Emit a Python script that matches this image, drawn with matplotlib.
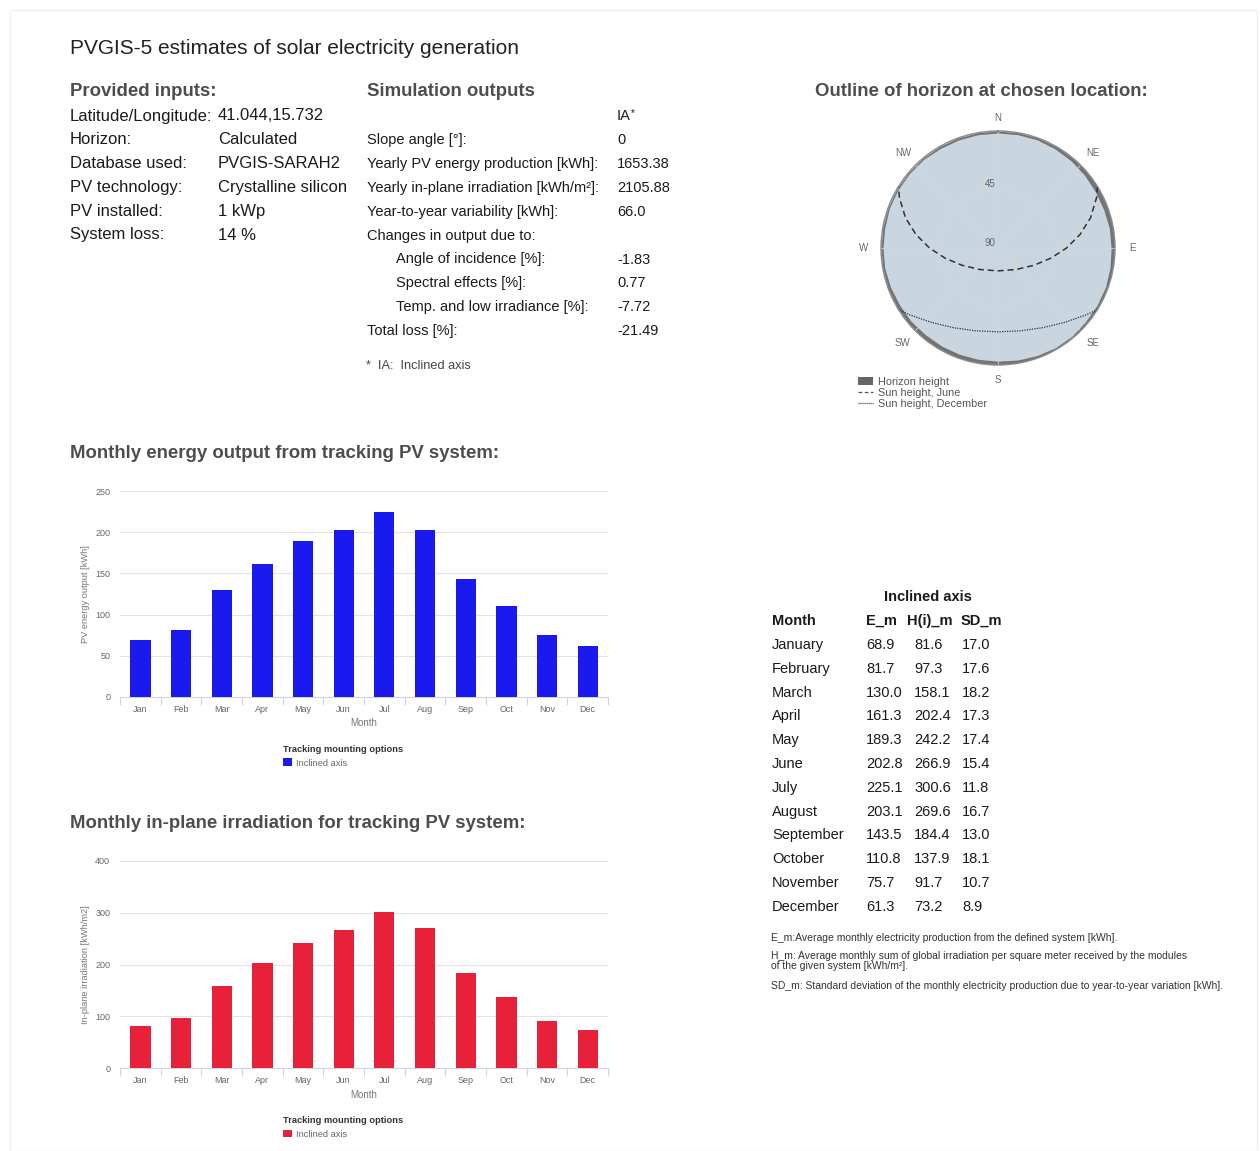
import numpy as np
import matplotlib
matplotlib.use('Agg')
import matplotlib.pyplot as plt
from matplotlib.patches import Rectangle, Patch
from matplotlib.lines import Line2D

plt.rcParams['font.family'] = ['Liberation Sans', 'DejaVu Sans']

W, H = 1260, 1151

# ---- data ----
months_short = ['Jan', 'Feb', 'Mar', 'Apr', 'May', 'Jun', 'Jul', 'Aug', 'Sep', 'Oct', 'Nov', 'Dec']
months_long = ['January', 'February', 'March', 'April', 'May', 'June', 'July', 'August',
               'September', 'October', 'November', 'December']
e_m = [68.9, 81.7, 130.0, 161.3, 189.3, 202.8, 225.1, 203.1, 143.5, 110.8, 75.7, 61.3]
h_m = [81.6, 97.3, 158.1, 202.4, 242.2, 266.9, 300.6, 269.6, 184.4, 137.9, 91.7, 73.2]
sd_m = [17.0, 17.6, 18.2, 17.3, 17.4, 15.4, 11.8, 16.7, 13.0, 18.1, 10.7, 8.9]

input_labels = ['Latitude/Longitude:', 'Horizon:', 'Database used:', 'PV technology:',
                'PV installed:', 'System loss:']
input_values = ['41.044,15.732', 'Calculated', 'PVGIS-SARAH2', 'Crystalline silicon',
                '1 kWp', '14 %']

output_labels = ['Slope angle [°]:', 'Yearly PV energy production [kWh]:',
                 'Yearly in-plane irradiation [kWh/m²]:', 'Year-to-year variability [kWh]:',
                 'Changes in output due to:', 'Angle of incidence [%]:', 'Spectral effects [%]:',
                 'Temp. and low irradiance [%]:', 'Total loss [%]:']
output_values = ['0', '1653.38', '2105.88', '66.0', '', '-1.83', '0.77', '-7.72', '-21.49']
output_indent = [0, 0, 0, 0, 0, 1, 1, 1, 0]

# horizon outline (azimuth deg from N, height deg)
hor_az = [0, 10, 20, 30, 40, 50, 60, 70, 80, 90, 100, 110, 120, 130, 140, 150, 160, 170, 180,
          190, 200, 210, 220, 230, 240, 250, 260, 270, 280, 290, 300, 310, 320, 330, 340, 350, 360]
hor_h = [1.5, 1.5, 1.5, 2.0, 2.5, 3.0, 3.5, 3.5, 3.0, 3.0, 2.5, 2.0, 2.0, 2.0, 1.5, 1.5, 2.0, 2.5, 3.0,
         3.0, 3.0, 3.0, 3.0, 2.5, 2.5, 2.0, 1.5, 1.5, 1.5, 1.0, 1.0, 1.0, 1.0, 1.5, 1.5, 1.5, 1.5]

# sun paths (azimuth, elevation)
june_az = [58.2, 62.8, 71.9, 80.7, 90.1, 100.9, 115.8, 140.0, 180.0,
           220.0, 244.2, 259.1, 269.9, 279.3, 288.1, 297.2, 301.8]
june_el = [0, 4.7, 15.1, 26.1, 37.4, 48.6, 59.4, 68.4, 72.4,
           68.4, 59.4, 48.6, 37.4, 26.1, 15.1, 4.7, 0]
dec_az = [121.8, 127.2, 138.2, 150.9, 164.8, 180.0, 195.2, 209.1, 221.8, 232.8, 238.2]
dec_el = [0, 4.9, 13.2, 19.8, 24.0, 25.5, 24.0, 19.8, 13.2, 4.9, 0]

compass = ['N', 'NE', 'E', 'SE', 'S', 'SW', 'W', 'NW']


def fx(x):
    return x / W


def fy(y):
    return 1 - y / H


fig = plt.figure(figsize=(W / 100, H / 100), dpi=100)
fig.patches.append(Rectangle((fx(10), 0), fx(1247), fy(10), transform=fig.transFigure,
                             fill=False, edgecolor='#f0f0f0', lw=1))

head_col = '#4d4d4d'
txt_col = '#1a1a1a'
head_size = 13.4

fig.text(fx(70), fy(49), 'PVGIS-5 estimates of solar electricity generation', fontsize=15,
         color='#222222', va='center')

# provided inputs
fig.text(fx(70), fy(91), 'Provided inputs:', fontsize=head_size, weight='bold', color=head_col, va='center')
for i, (lab, val) in enumerate(zip(input_labels, input_values)):
    y = 116 + i * 23.8
    fig.text(fx(70), fy(y), lab, fontsize=12, color=txt_col, va='center')
    fig.text(fx(218), fy(y), val, fontsize=12, color=txt_col, va='center')

# simulation outputs
fig.text(fx(367), fy(91), 'Simulation outputs', fontsize=head_size, weight='bold', color=head_col, va='center')
fig.text(fx(617), fy(116), 'IA', fontsize=10.5, color=txt_col, va='center')
fig.text(fx(631), fy(113), '*', fontsize=7, color=txt_col, va='center')
for i, (lab, val) in enumerate(zip(output_labels, output_values)):
    y = 140 + i * 23.9
    fig.text(fx(367 + 29 * output_indent[i]), fy(y), lab, fontsize=10.5, color=txt_col, va='center')
    fig.text(fx(617), fy(y), val, fontsize=10.5, color=txt_col, va='center')
fig.text(fx(366), fy(366), '*  IA:  Inclined axis', fontsize=9.2, color='#444444', va='center')

fig.text(fx(981), fy(91), 'Outline of horizon at chosen location:', fontsize=head_size, weight='bold',
         color=head_col, va='center', ha='center')

# horizon polar plot
cx, cy, R = 998, 248, 117
axp = fig.add_axes([fx(cx - R), fy(cy + R), R * 2 / W, R * 2 / H], projection='polar')
axp.set_theta_zero_location('N')
axp.set_theta_direction(-1)
axp.set_facecolor('#c9d5df')
axp.set_rlim(0, 90)
th = np.deg2rad(hor_az)
axp.fill_between(th, [90 - h for h in hor_h], 90, color='#737373', lw=0)
axp.plot(np.deg2rad(june_az), [90 - e for e in june_el], color='#333333', lw=1.1,
         dashes=(4, 2.5))
axp.plot(np.deg2rad(dec_az), [90 - e for e in dec_el], color='#333333', lw=0.9, ls=(0, (1, 1)))
axp.set_rticks([45])
axp.set_yticklabels([])
axp.set_thetagrids(range(0, 360, 45), [''] * 8)
axp.grid(color='#ccd7e1', lw=0.6)
axp.spines['polar'].set_color('#8a8a8a')
axp.spines['polar'].set_linewidth(1.0)
label_r = [1.11, 1.15, 1.15, 1.15, 1.13, 1.15, 1.15, 1.15]
for k, lab in enumerate(compass):
    axp.text(np.deg2rad(k * 45), 90 * label_r[k], lab, ha='center', va='center', fontsize=7,
             color='#666666', clip_on=False)
axp.text(0.466, 0.5 + 64 / 234, '45', transform=axp.transAxes, ha='center', va='center',
         fontsize=7, color='#666666')
axp.text(0.466, 0.5 + 5 / 234, '90', transform=axp.transAxes, ha='center', va='center',
         fontsize=7, color='#666666')
hor_handles = [Patch(facecolor='#666666', edgecolor='none', label='Horizon height'),
               Line2D([], [], color='#555555', lw=0.9, dashes=(3, 2), label='Sun height, June'),
               Line2D([], [], color='#555555', lw=0.9, ls=(0, (1, 0.6)), label='Sun height, December')]
fig.legend(handles=hor_handles, loc='upper left', bbox_to_anchor=(fx(850), fy(369)), frameon=False,
           fontsize=7.8, labelcolor='#555555', handlelength=1.4, handleheight=0.8,
           labelspacing=0.1, handletextpad=0.5, borderpad=0.2)


def bar_chart(top, bottom, values, ymax, step, color, ylabel, title, title_y):
    fig.text(fx(70), fy(title_y), title, fontsize=head_size, weight='bold', color=head_col, va='center')
    ax = fig.add_axes([fx(120), fy(bottom), 488 / W, (bottom - top) / H])
    x = np.arange(len(months_short))
    bars = ax.bar(x, values, width=0.5, color=color, label='Inclined axis', zorder=3)
    ax.set_xlim(-0.5, 11.5)
    ax.set_ylim(0, ymax)
    ax.set_yticks(np.arange(0, ymax + 1, step))
    ax.set_xticks(x)
    ax.set_xticklabels(months_short)
    ax.set_xticks(np.arange(-0.5, 12, 1), minor=True)
    ax.tick_params(axis='x', which='major', length=0, labelsize=6.5, labelcolor='#666666', pad=6)
    ax.tick_params(axis='x', which='minor', length=6, color='#cfd5de', width=0.8)
    ax.tick_params(axis='y', length=0, labelsize=6.5, labelcolor='#666666', pad=7)
    ax.grid(axis='y', color='#e3e3e3', lw=0.8, zorder=0)
    for s in ['top', 'right', 'left']:
        ax.spines[s].set_visible(False)
    ax.spines['bottom'].set_color('#cfd5de')
    ax.set_xlabel('Month', fontsize=7, color='#777777', labelpad=3)
    ax.set_ylabel(ylabel, fontsize=6.7, color='#777777', labelpad=4)
    leg = ax.legend(handles=[bars], loc='upper center', bbox_to_anchor=(0.457, -0.205),
                    frameon=False, fontsize=6.7, labelcolor='#666666',
                    title='Tracking mounting options', alignment='left',
                    title_fontproperties={'weight': 'bold', 'size': 6.7},
                    handlelength=1.0, handleheight=0.9, handletextpad=0.4, borderpad=0.1)
    leg.get_title().set_color('#333333')
    return ax


bar_chart(491, 697, e_m, 250, 50, '#1a1aee', 'PV energy output [kWh]',
          'Monthly energy output from tracking PV system:', 453)
bar_chart(861, 1068, h_m, 400, 100, '#e62139', 'In-plane irradiation [kWh/m2]',
          'Monthly in-plane irradiation for tracking PV system:', 823)

# monthly table
fig.text(fx(928), fy(597), 'Inclined axis', fontsize=10.5, weight='bold', color=txt_col,
         ha='center', va='center')
for xx, lab in zip([866, 907, 961], ['E_m', 'H(i)_m', 'SD_m']):
    fig.text(fx(xx), fy(621), lab, fontsize=10.5, weight='bold', color=txt_col, va='center')
fig.text(fx(772), fy(621), 'Month', fontsize=10.5, weight='bold', color=txt_col, va='center')
for i in range(12):
    y = 645 + i * 23.8
    fig.text(fx(772), fy(y), months_long[i], fontsize=10.5, color=txt_col, va='center')
    fig.text(fx(866), fy(y), f'{e_m[i]:.1f}', fontsize=10.5, color=txt_col, va='center')
    fig.text(fx(914), fy(y), f'{h_m[i]:.1f}', fontsize=10.5, color=txt_col, va='center')
    fig.text(fx(962), fy(y), f'{sd_m[i]:.1f}', fontsize=10.5, color=txt_col, va='center')

note_size = 7.5
fig.text(fx(771), fy(938), 'E_m:Average monthly electricity production from the defined system [kWh].',
         fontsize=note_size, color='#333333', va='center')
fig.text(fx(771), fy(961), 'H_m: Average monthly sum of global irradiation per square meter received by the modules\n'
         'of the given system [kWh/m²].', fontsize=note_size, color='#333333', va='center', linespacing=0.9)
fig.text(fx(771), fy(986), 'SD_m: Standard deviation of the monthly electricity production due to year-to-year variation [kWh].',
         fontsize=note_size, color='#333333', va='center')

fig.savefig('out.png', dpi=100, facecolor='white')
